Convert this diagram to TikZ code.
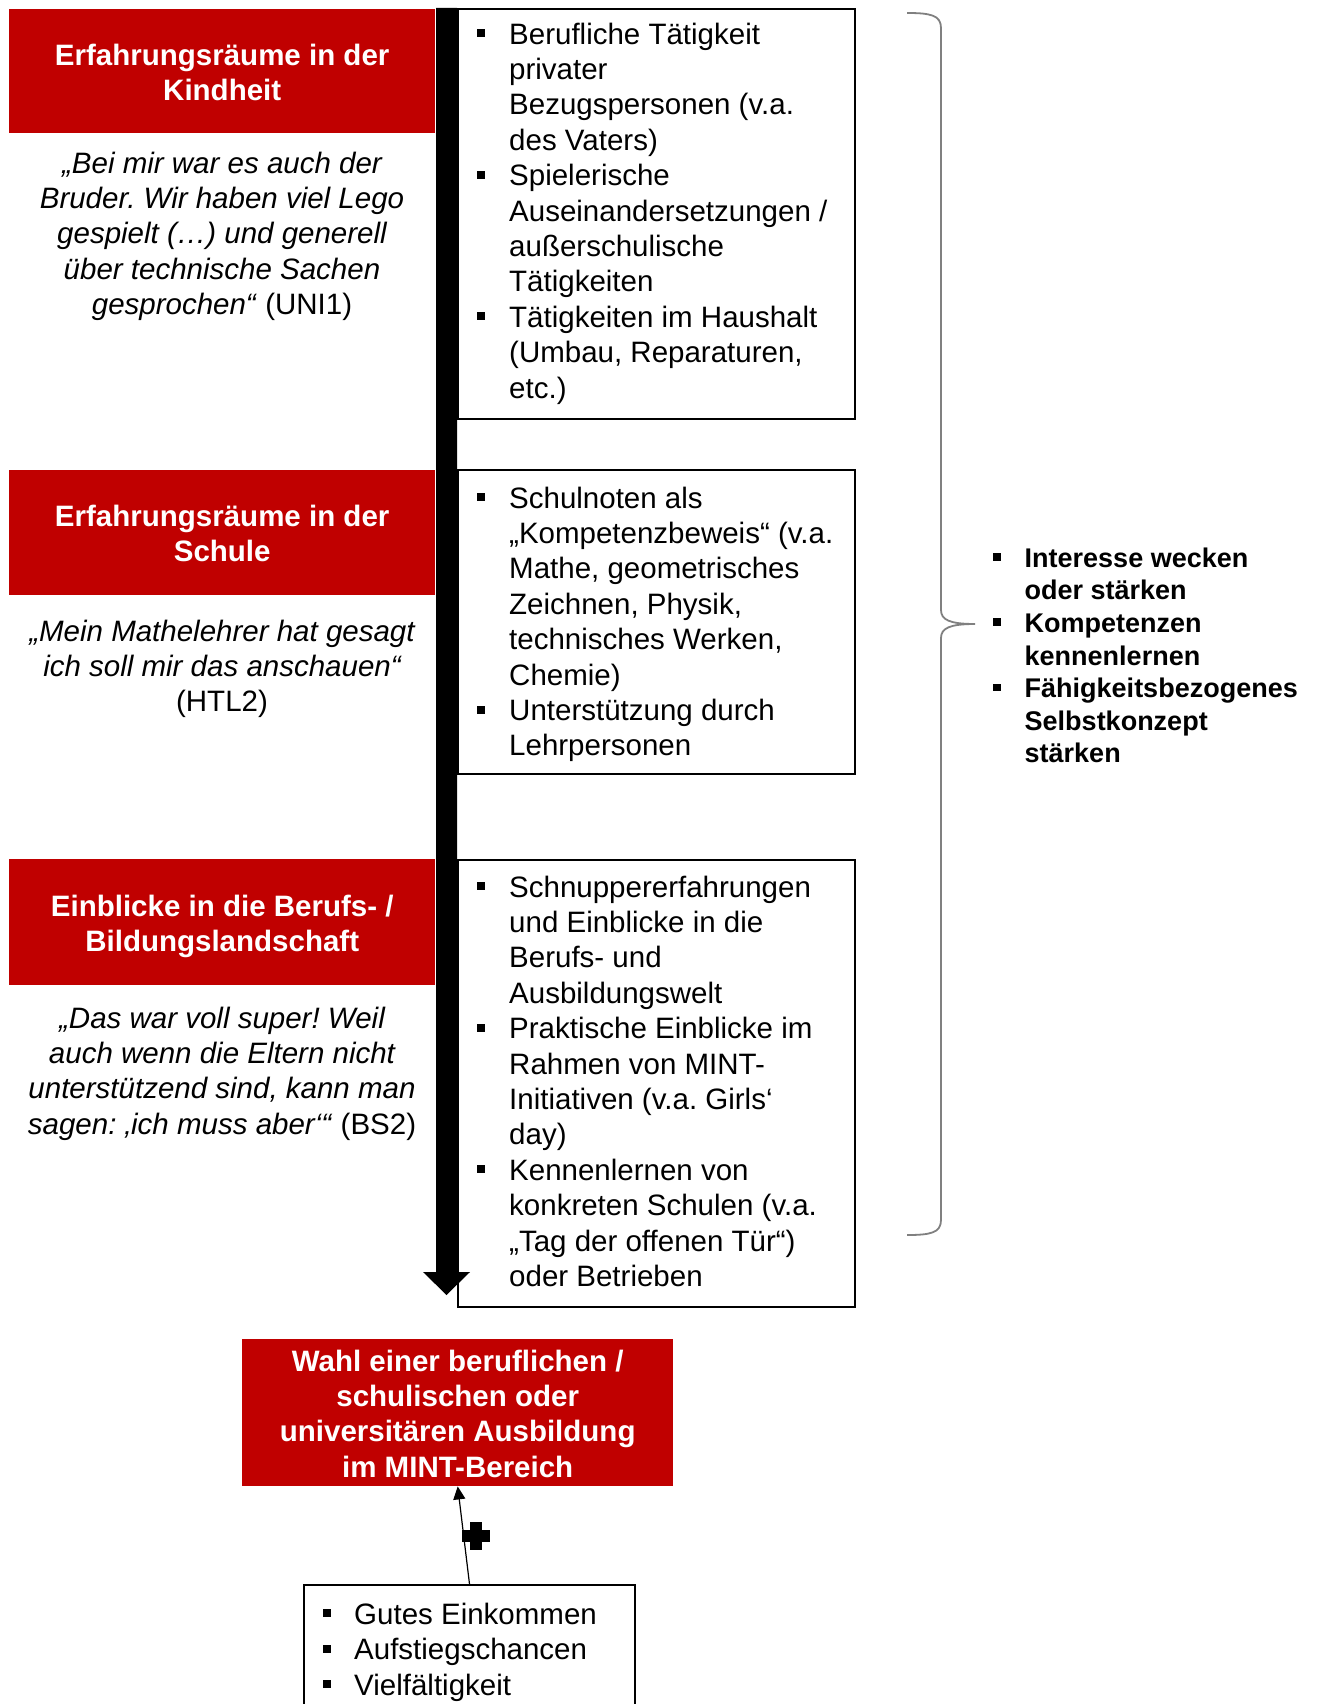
\documentclass[tikz,border=0pt]{standalone}
\usepackage{fontspec}
\setmainfont{Liberation Sans}
\usetikzlibrary{arrows.meta}
\definecolor{pptred}{RGB}{192,0,0}
\definecolor{bracegray}{RGB}{128,128,128}
\newcommand{\bul}{\rule[7pt]{8pt}{8pt}}
\newcommand{\bulr}{\rule[6.5pt]{7.5pt}{7.5pt}}
\newcommand{\fsmain}{\fontsize{29.5pt}{35.4pt}\selectfont\frenchspacing}
\newcommand{\fsright}{\fontsize{27pt}{32.6pt}\selectfont\bfseries\frenchspacing}
\newcommand{\redlines}[1]{\begin{tabular}{@{}c@{}}#1\end{tabular}}
\begin{document}
\begin{tikzpicture}[x=1pt,y=-1pt,
  redbox/.style={fill=pptred, inner sep=0pt, anchor=north west},
  redtext/.style={text=white, font=\fsmain\bfseries, inner sep=0pt, yshift=-4.5pt},
  whitebox/.style={draw=black, line width=2pt, fill=white, inner sep=0pt, anchor=north west},
  listtext/.style={inner sep=0pt, anchor=north west, font=\fsmain},
  quotetext/.style={inner sep=0pt, anchor=north, font=\fsmain},
  bracepath/.style={draw=bracegray, line width=1.8pt},
  thinarrow/.style={draw=black, line width=1.2pt, -{Triangle[width=12pt,length=13pt]}}
]
\useasboundingbox (0,0) rectangle (1318,1704);
\fill[white] (0,0) rectangle (1318,1704);

% red title boxes
\node[redbox, minimum width=426pt, minimum height=124pt] (r1) at (9,9) {};
\node[redtext] (r1t) at (r1.center) {\redlines{Erfahrungsräume in der\\Kindheit}};
\node[redbox, minimum width=426pt, minimum height=125pt] (r2) at (9,470) {};
\node[redtext] (r2t) at (r2.center) {\redlines{Erfahrungsräume in der\\Schule}};
\node[redbox, minimum width=426pt, minimum height=126pt] (r3) at (9,859) {};
\node[redtext] (r3t) at (r3.center) {\redlines{Einblicke in die Berufs- /\\Bildungslandschaft}};

% quotes
\node[quotetext] (q1) at (222,148.2)
  {\begin{tabular}{@{}c@{}}\itshape „Bei mir war es auch der\\
  \itshape Bruder. Wir haben viel Lego\\
  \itshape gespielt (…) und generell\\
  \itshape über technische Sachen\\
  \textit{gesprochen“} (UNI1)\end{tabular}};
\node[quotetext] (q2) at (222,616.2)
  {\begin{tabular}{@{}c@{}}\itshape „Mein Mathelehrer hat gesagt\\
  \itshape ich soll mir das anschauen“\\
  (HTL2)\end{tabular}};
\node[quotetext] (q3) at (222,1003.2)
  {\begin{tabular}{@{}c@{}}\itshape „Das war voll super! Weil\\
  \itshape auch wenn die Eltern nicht\\
  \itshape unterstützend sind, kann man\\
  \textit{sagen: ‚ich muss aber‘“} (BS2)\end{tabular}};

% white boxes
\node[whitebox, minimum width=397pt, minimum height=410pt] (b1) at (457,8) {};
\node[whitebox, minimum width=397pt, minimum height=304pt] (b2) at (457,469) {};
\node[whitebox, minimum width=397pt, minimum height=447pt] (b3) at (457,859) {};

\node[listtext] (t1) at (477,19.2)
  {\begin{tabular}{@{}l@{\hspace{24pt}}l@{}}
  \bul & Berufliche Tätigkeit\\
       & privater\\
       & Bezugspersonen (v.a.\\
       & des Vaters)\\
  \bul & Spielerische\\
       & Auseinandersetzungen /\\
       & außerschulische\\
       & Tätigkeiten\\
  \bul & Tätigkeiten im Haushalt\\
       & (Umbau, Reparaturen,\\
       & etc.)
  \end{tabular}};
\node[listtext] (t2) at (477,483.2)
  {\begin{tabular}{@{}l@{\hspace{24pt}}l@{}}
  \bul & Schulnoten als\\
       & „Kompetenzbeweis“ (v.a.\\
       & Mathe, geometrisches\\
       & Zeichnen, Physik,\\
       & technisches Werken,\\
       & Chemie)\\
  \bul & Unterstützung durch\\
       & Lehrpersonen
  \end{tabular}};
\node[listtext] (t3) at (477,872.2)
  {\begin{tabular}{@{}l@{\hspace{24pt}}l@{}}
  \bul & Schnuppererfahrungen\\
       & und Einblicke in die\\
       & Berufs- und\\
       & Ausbildungswelt\\
  \bul & Praktische Einblicke im\\
       & Rahmen von MINT-\\
       & Initiativen (v.a. Girls‘\\
       & day)\\
  \bul & Kennenlernen von\\
       & konkreten Schulen (v.a.\\
       & „Tag der offenen Tür“)\\
       & oder Betrieben
  \end{tabular}};

% big downward arrow bar
\fill[black] (436,8) -- (457,8) -- (457,1272) -- (470,1272) -- (446.5,1295)
  -- (423,1272) -- (436,1272) -- cycle;

% brace
\path[bracepath] (907,13) .. controls (930,13) and (941,15) .. (941,28)
  -- (941,610) .. controls (941,620) and (950,624) .. (975,624)
  .. controls (950,624) and (941,628) .. (941,638)
  -- (941,1220) .. controls (941,1233) and (930,1235) .. (907,1235);

% right bullets
\node[inner sep=0pt, anchor=north west, font=\fsright] (tr) at (993,544.2)
  {\begin{tabular}{@{}l@{\hspace{24pt}}l@{}}
  \bulr & Interesse wecken\\
        & oder stärken\\
  \bulr & Kompetenzen\\
        & kennenlernen\\
  \bulr & Fähigkeitsbezogenes\\
        & Selbstkonzept\\
        & stärken
  \end{tabular}};

% final red box
\node[redbox, minimum width=431pt, minimum height=147pt] (fin) at (242,1339) {};
\node[redtext] (fint) at (fin.center)
  {\redlines{Wahl einer beruflichen /\\schulischen oder\\universitären Ausbildung\\im MINT-Bereich}};

% bottom box
\node[whitebox, minimum width=331pt, minimum height=140pt] (b4) at (303,1584) {};
\node[listtext] (t4) at (323,1599.2)
  {\begin{tabular}{@{}l@{\hspace{23pt}}l@{}}
  \bul & Gutes Einkommen\\
  \bul & Aufstiegschancen\\
  \bul & Vielfältigkeit
  \end{tabular}};

% thin arrow with plus
\draw[thinarrow] (b4.north) -- (fin.south);
\fill[black] (462,1530) rectangle (490,1542);
\fill[black] (470,1522) rectangle (482,1550);
\end{tikzpicture}
\end{document}
